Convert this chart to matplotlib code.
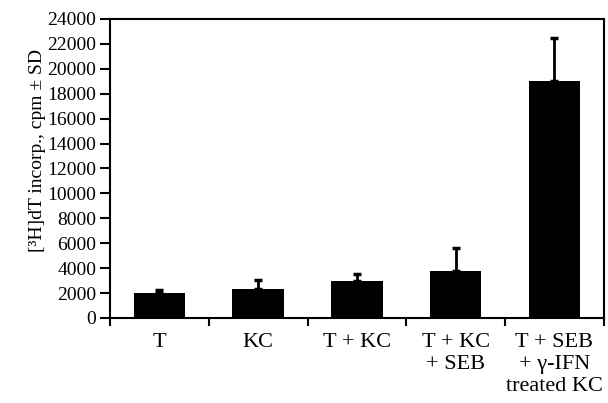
import numpy as np
import matplotlib.pyplot as plt

plt.rcParams['font.family'] = ['Liberation Serif', 'DejaVu Serif']

groups = ["T", "KC", "T + KC", "T + KC\n+ SEB", "T + SEB\n+ γ-IFN\ntreated KC"]
means = [2000, 2350, 3000, 3750, 19050]
sds = [250, 700, 500, 1900, 3450]

fig = plt.figure(figsize=(6.08, 4.03), dpi=100)
ax = fig.add_axes([0.181, 0.211, 0.812, 0.742])

x = np.arange(len(groups))
ax.bar(x, means, width=0.52, color="black", zorder=2)
ax.errorbar(x, means, yerr=[np.zeros(len(sds)), sds], fmt="none",
            ecolor="black", elinewidth=2, capsize=3, capthick=2.5, zorder=3)

ax.set_xlim(-0.5, len(groups) - 0.5)
ax.set_ylim(0, 24000)
ax.set_yticks(np.arange(0, 24001, 2000))
ax.tick_params(axis="y", labelsize=14, width=1.5, length=7, direction="out", pad=3)

# category boundaries carry the x ticks
ax.set_xticks(np.arange(-0.5, len(groups), 1.0))
ax.set_xticklabels([])
ax.set_xticks(x, minor=True)
ax.set_xticklabels(groups, minor=True, fontsize=16, va="top", linespacing=1.2)
ax.tick_params(axis="x", which="major", width=1.5, length=6, direction="out")
ax.tick_params(axis="x", which="minor", length=0, pad=11)

for s in ax.spines.values():
    s.set_linewidth(1.5)

ax.set_ylabel("[³H]dT incorp., cpm ± SD", fontsize=14, labelpad=10)
ax.yaxis.set_label_coords(-0.13, 0.56)

fig.savefig("out.png", dpi=100)
